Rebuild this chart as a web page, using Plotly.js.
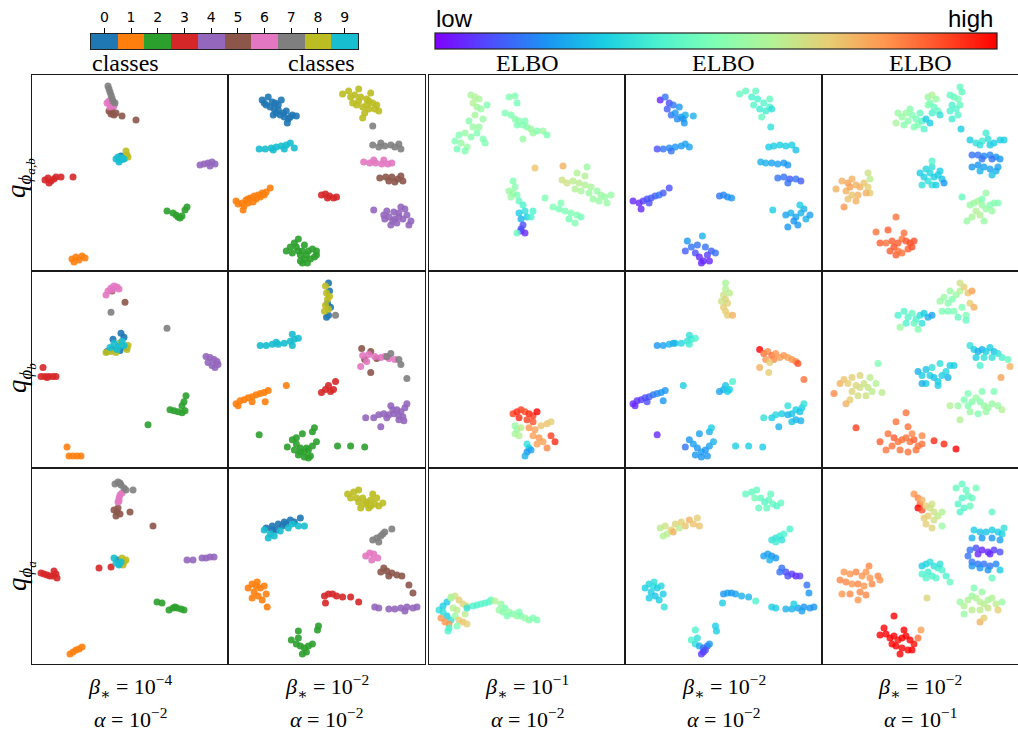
<!DOCTYPE html>
<html><head><meta charset="utf-8">
<script src="https://cdn.plot.ly/plotly-3.0.1.min.js"></script>
<style>html,body{margin:0;padding:0;background:#fff}#chart{width:1018px;height:732px}</style>
</head><body><div id="chart"></div><script>
// ---------- labels / categories ----------
const classIdx = [0,1,2,3,4,5,6,7,8,9];
const classLabels = ['0','1','2','3','4','5','6','7','8','9'];
const classColors = ['#1f77b4','#ff7f0e','#2ca02c','#d62728','#9467bd','#8c564b','#e377c2','#7f7f7f','#bcbd22','#17becf'];
const rowLabels = ['<i>q</i><sub><i>ϕ</i><sub><i>a,b</i></sub></sub>','<i>q</i><sub><i>ϕ</i><sub><i>b</i></sub></sub>','<i>q</i><sub><i>ϕ</i><sub><i>a</i></sub></sub>'];
const betaLabels = ['<i>β</i><sub>∗</sub> = 10<sup>−4</sup>','<i>β</i><sub>∗</sub> = 10<sup>−2</sup>','<i>β</i><sub>∗</sub> = 10<sup>−1</sup>','<i>β</i><sub>∗</sub> = 10<sup>−2</sup>','<i>β</i><sub>∗</sub> = 10<sup>−2</sup>'];
const alphaLabels = ['<i>α</i> = 10<sup>−2</sup>','<i>α</i> = 10<sup>−2</sup>','<i>α</i> = 10<sup>−2</sup>','<i>α</i> = 10<sup>−2</sup>','<i>α</i> = 10<sup>−1</sup>'];
const topLabels = ['classes','classes','ELBO','ELBO','ELBO'];

// ---------- points: [x, y, class] (class panels) or [x, y, ELBO 0..1] ----------
const r1c1 = [[76,11,7],[77,14,7],[78,17,7],[79,20,7],[80,23,7],[81,26,7],[83,28,7],
[75,28,6],[77,26,6],[79,30,6],[81,27,6],[78,32,6],[82,31,6],
[77,36,5],[79,39,5],[82,40,5],[80,35,5],[84,38,5],[90,41,5],[104,45,5],
[84,84,9],[86,82,9],[88,85,9],[90,83,9],[87,87,9],[92,84,9],
[94,76,8],[95,80,8],[93,83,8],[96,82,8],
[89,81,0],[91,84,0],
[13,105,3],[16,103,3],[19,106,3],[22,104,3],[17,108,3],[24,102,3],[29,102,3],[41,102,3],
[168,90,4],[172,89,4],[176,88,4],[180,87,4],[183,89,4],[178,91,4],
[135,136,2],[141,138,2],[146,142,2],[150,141,2],[153,135,2],[155,132,2],[144,140,2],[148,143,2],
[40,184,1],[44,182,1],[47,185,1],[50,181,1],[53,183,1],[42,187,1]];

const r1c2 = [[34,25,0],[40,22,0],[38,30,0],[44,27,0],[46,34,0],[50,30,0],[48,38,0],[52,40,0],[56,42,0],[60,44,0],[64,40,0],[58,36,0],[53,25,0],[45,40,0],[59,48,0],[68,41,0],[36,28,0],[42,32,0],[50,35,0],[55,38,0],[62,42,0],[47,28,0],
[114,19,8],[120,16,8],[126,20,8],[132,22,8],[138,24,8],[144,28,8],[140,34,8],[134,32,8],[128,30,8],[136,38,8],[148,30,8],[130,14,8],[142,18,8],[134,43,8],[122,22,8],[130,26,8],[138,30,8],[146,34,8],[124,28,8],[140,26,8],[150,36,8],
[144,51,7],[144,70,7],[150,72,7],[156,71,7],[162,70,7],[166,72,7],[170,69,7],[172,74,7],[152,68,7],
[31,74,9],[37,74,9],[43,73,9],[48,72,9],[53,71,9],[58,70,9],[62,68,9],[66,73,9],[56,74,9],[45,75,9],
[135,87,6],[141,88,6],[147,88,6],[153,89,6],[159,89,6],[163,88,6],[145,85,6],[155,85,6],
[151,103,5],[157,102,5],[163,102,5],[169,104,5],[174,106,5],[166,107,5],[160,106,5],[172,101,5],
[93,120,3],[97,119,3],[101,121,3],[105,123,3],[108,122,3],[99,123,3],
[8,126,1],[14,128,1],[18,125,1],[22,123,1],[26,121,1],[30,120,1],[34,118,1],[38,117,1],[42,113,1],[16,131,1],[25,127,1],[15,135,1],[20,128,1],[32,122,1],[10,129,1],[28,124,1],[36,120,1],[20,124,1],
[145,135,4],[155,140,4],[160,142,4],[165,137,4],[170,138,4],[174,144,4],[178,140,4],[182,146,4],[168,148,4],[162,150,4],[176,134,4],[172,132,4],[166,144,4],[158,136,4],[164,146,4],[170,142,4],[180,150,4],[156,144,4],
[58,176,2],[64,178,2],[68,172,2],[72,180,2],[76,184,2],[80,176,2],[84,174,2],[88,180,2],[74,188,2],[79,188,2],[66,168,2],[70,164,2],[76,170,2],[86,182,2],[74,176,2],[62,172,2],[70,176,2],[78,180,2],[82,184,2],[88,176,2],[72,186,2]];

const r2c1 = [[74,24,6],[76,20,6],[79,17,6],[82,15,6],[85,16,6],[87,18,6],[80,19,6],
[80,20,5],[93,31,5],
[79,41,7],[135,57,7],
[75,80,0],[80,78,0],[88,79,0],[94,76,0],[81,68,0],[89,62,0],[92,66,0],
[78,76,9],[82,72,9],[86,75,9],[90,70,9],[92,74,9],[85,78,9],
[74,81,8],[79,80,8],[84,81,8],[95,78,8],[96,74,8],[87,72,8],
[11,96,3],[9,105,3],[13,105,3],[17,105,3],[21,105,3],[24,105,3],[15,106,3],
[174,85,4],[178,86,4],[182,88,4],[185,90,4],[176,91,4],[180,94,4],[183,96,4],[186,93,4],
[138,138,2],[142,139,2],[146,140,2],[150,141,2],[153,139,2],[150,134,2],[152,130,2],[154,124,2],[116,153,2],
[35,175,1],[37,184,1],[41,184,1],[45,184,1],[49,184,1]];

const r2c2 = [[100,12,0],[101,20,0],[99,32,0],[100,44,0],[102,36,0],[98,46,0],
[97,15,8],[98,22,8],[99,28,8],[97,34,8],[100,38,8],[96,40,8],[101,25,8],
[107,44,7],[158,85,7],[162,82,7],[170,88,7],[172,93,7],[178,107,7],
[32,74,9],[38,74,9],[44,73,9],[50,73,9],[56,72,9],[62,70,9],[66,68,9],[70,67,9],[64,63,9],[64,74,9],[48,71,9],
[134,84,6],[140,83,6],[146,85,6],[152,86,6],[156,85,6],[160,87,6],[166,88,6],[132,95,6],[138,90,6],
[133,77,5],[142,80,5],[148,87,5],[142,101,5],[136,88,5],
[93,121,3],[97,118,3],[100,114,3],[102,120,3],[105,118,3],[107,110,3],
[8,132,1],[12,129,1],[16,128,1],[20,126,1],[24,125,1],[28,123,1],[32,122,1],[36,121,1],[40,119,1],[10,134,1],[24,130,1],[37,130,1],[58,114,1],
[137,146,4],[145,146,4],[150,143,4],[155,142,4],[160,143,4],[165,142,4],[168,138,4],[172,140,4],[176,136,4],[178,132,4],[170,148,4],[175,149,4],[162,134,4],[152,155,4],[158,146,4],[164,138,4],[170,144,4],[174,145,4],
[59,175,2],[64,168,2],[68,172,2],[72,176,2],[76,180,2],[80,178,2],[84,174,2],[88,170,2],[70,183,2],[76,185,2],[82,184,2],[74,162,2],[84,160,2],[86,156,2],[31,163,2],[109,174,2],[122,174,2],[136,175,2],[66,178,2],[78,176,2],[72,180,2],[80,186,2],[68,166,2]];

const r3c1 = [[83,16,7],[86,14,7],[89,17,7],[92,20,7],[94,22,7],[88,15,7],[101,22,7],
[86,34,6],[87,30,6],[88,27,6],[90,25,6],[87,33,6],
[82,42,5],[85,44,5],[88,46,5],[84,48,5],[86,40,5],[98,44,5],[121,58,5],
[82,90,9],[84,95,9],[87,97,9],[89,94,9],
[86,92,0],[88,96,0],
[90,90,8],[92,94,8],[94,92,8],[91,97,8],
[9,105,3],[12,106,3],[15,107,3],[18,108,3],[21,108,3],[24,106,3],[25,110,3],[22,103,3],[67,100,3],[79,99,3],
[155,92,4],[161,92,4],[170,90,4],[174,90,4],[178,89,4],[182,89,4],
[125,134,2],[130,135,2],[137,142,2],[141,140,2],[145,140,2],[149,141,2],[152,142,2],[143,139,2],
[38,186,1],[41,184,1],[44,182,1],[47,181,1],[50,179,1]];

const r3c2 = [[119,26,8],[125,24,8],[130,22,8],[134,30,8],[138,34,8],[142,32,8],[146,36,8],[150,38,8],[154,35,8],[132,40,8],[140,40,8],[128,30,8],[144,26,8],[122,30,8],[136,36,8],[148,30,8],[130,34,8],[142,38,8],
[38,60,0],[44,58,0],[50,56,0],[56,54,0],[62,52,0],[66,54,0],[72,50,0],[48,62,0],[54,58,0],[58,56,0],[44,62,0],
[36,62,9],[42,66,9],[46,68,9],[52,63,9],[60,60,9],[70,58,9],[40,70,9],[76,58,9],[64,56,9],
[144,72,7],[148,70,7],[152,68,7],[156,64,7],[150,74,7],[154,66,7],[163,61,7],
[137,88,6],[141,85,6],[145,86,6],[149,90,6],[143,92,6],
[152,104,5],[158,103,5],[163,105,5],[168,107,5],[173,108,5],[160,108,5],[155,100,5],[180,117,5],[184,125,5],
[20,120,1],[24,116,1],[28,118,1],[32,120,1],[36,118,1],[26,124,1],[30,128,1],[34,132,1],[24,130,1],[38,126,1],[29,114,1],[39,139,1],
[96,128,3],[100,126,3],[104,126,3],[108,128,3],[114,129,3],[122,129,3],[130,134,3],[97,135,3],
[146,139,4],[150,140,4],[160,141,4],[166,141,4],[172,140,4],[178,139,4],[184,140,4],[188,139,4],[176,143,4],
[63,172,2],[68,176,2],[72,178,2],[76,180,2],[80,178,2],[84,176,2],[70,170,2],[78,184,2],[74,186,2],[70,163,2],[89,162,2],[90,158,2]];

const r1c3 = [[42,20,.58],[46,22,.6],[50,24,.58],[44,28,.6],[48,32,.58],[52,34,.55],[58,30,.5],[46,40,.58],[54,44,.55],[40,46,.52],[30,60,.5],[36,58,.55],[42,62,.52],[26,66,.5],[32,68,.55],[48,58,.5],[54,64,.5],[38,72,.55],[28,74,.48],[36,76,.5],[56,68,.5],[44,52,.55],[50,52,.55],
[76,38,.5],[82,40,.5],[86,44,.52],[90,46,.52],[94,50,.5],[98,52,.52],[102,54,.55],[108,56,.5],[114,56,.55],[118,60,.5],[88,50,.5],[96,46,.5],[104,58,.55],[94,64,.55],[80,22,.5],[86,21,.5],[88,28,.48],
[84,106,.5],[86,112,.52],[84,118,.55],[88,120,.5],[90,126,.45],[94,130,.4],[96,136,.35],[98,142,.3],[90,138,.3],[92,144,.25],[94,150,.1],[92,156,.05],[96,158,.05],[102,142,.4],[104,136,.4],[82,122,.55],[80,116,.55],[92,154,.1],[88,158,.45],[106,93,.72],[116,123,.5],
[138,108,.65],[144,106,.62],[150,108,.62],[156,110,.6],[162,112,.58],[146,114,.6],[152,116,.58],[160,118,.55],[168,116,.55],[172,120,.55],[176,122,.55],[182,120,.55],[170,126,.55],[178,128,.55],[164,124,.55],[130,134,.48],[136,136,.5],[142,138,.5],[148,140,.5],[152,142,.48],[140,144,.48],[146,148,.5],[132,128,.5],[124,132,.5],[134,91,.75],[148,98,.6],[156,101,.6],[158,92,.55],[133,105,.65]];

const r1c4 = [[35,25,.05],[40,22,.15],[44,28,.1],[42,34,.12],[46,40,.15],[50,38,.2],[52,44,.18],[56,42,.2],[60,40,.25],[48,30,.15],[54,32,.2],[58,44,.2],[59,48,.2],[68,41,.25],
[114,19,.45],[120,16,.45],[126,22,.4],[132,24,.4],[138,28,.42],[144,32,.4],[140,36,.38],[134,34,.38],[128,30,.42],[144,24,.45],[136,42,.45],[130,16,.45],[146,34,.35],[145,52,.35],
[32,74,.1],[38,74,.15],[44,73,.18],[50,72,.2],[56,71,.2],[60,69,.22],[64,72,.22],[46,76,.15],
[143,72,.3],[148,71,.3],[154,70,.3],[160,71,.3],[166,70,.3],[170,75,.28],
[135,87,.25],[140,88,.25],[146,88,.22],[152,89,.22],[158,88,.2],[162,90,.2],
[152,103,.15],[158,102,.15],[164,104,.12],[170,104,.15],[175,106,.12],[162,108,.15],
[94,121,.15],[98,120,.18],[102,122,.18],[106,123,.2],
[8,126,.05],[14,128,.05],[18,126,.08],[22,124,.1],[26,123,.12],[30,121,.12],[34,120,.15],[38,118,.12],[16,134,.05],[24,128,.1],[44,113,.1],
[160,140,.22],[165,138,.25],[170,142,.22],[175,138,.25],[180,144,.25],[184,140,.22],[168,146,.2],[172,150,.2],[178,134,.25],[174,130,.3],[162,152,.2],[147,135,.3],
[60,176,.12],[66,172,.15],[70,178,.1],[74,182,.05],[78,186,.05],[82,180,.08],[86,176,.12],[90,178,.15],[80,172,.15],[72,170,.15],[84,186,.05],[76,188,.05],[77,161,.25],[62,166,.2]];

const r2c3 = [[84,142,.92],[88,140,.95],[92,138,.92],[96,140,.9],[100,142,.95],[104,144,.92],[108,140,1.0],[90,146,.95],[98,148,.92],[104,150,.9],
[100,156,.8],[106,158,.78],[112,154,.72],[118,152,.72],[122,150,.7],[104,164,.78],[110,166,.8],[108,172,.78],[114,170,.78],[118,176,.82],[122,164,.92],[126,170,.95],
[86,154,.55],[88,158,.55],[86,162,.58],[90,164,.6],[92,156,.62],
[98,172,.35],[100,176,.3],[98,180,.2],[102,178,.22],[96,184,.25]];

const r2c4 = [[100,12,.58],[100,18,.6],[98,24,.65],[100,28,.68],[102,32,.68],[98,36,.7],[100,40,.7],[102,44,.7],[96,30,.65],[104,22,.62],[107,44,.75],
[32,74,.2],[38,74,.22],[44,73,.25],[50,72,.28],[56,72,.32],[62,70,.35],[66,68,.38],[70,67,.4],[64,64,.35],[64,73,.38],[48,72,.25],
[134,78,1.0],[138,82,.85],[142,80,.82],[146,84,.85],[150,82,.8],[154,86,.78],[158,84,.8],[162,86,.78],[166,88,.8],[170,90,.82],[140,88,.8],[148,88,.82],[134,96,.75],[144,91,.7],[172,92,.9],[143,101,.7],[178,108,.85],
[94,120,.22],[98,118,.25],[100,114,.28],[102,120,.3],[104,118,.3],[107,110,.4],
[8,132,.05],[12,129,.06],[16,128,.08],[20,126,.1],[24,125,.12],[28,123,.15],[32,122,.18],[36,121,.2],[40,119,.2],[10,134,.05],[22,130,.1],[38,129,.2],[58,114,.3],
[138,146,.35],[146,146,.3],[150,143,.32],[156,142,.3],[162,143,.25],[166,142,.28],[170,138,.3],[174,140,.28],[176,136,.3],[178,132,.35],[170,148,.25],[175,149,.25],[162,134,.35],[153,155,.25],[166,150,.28],
[60,175,.15],[64,168,.2],[68,172,.22],[72,176,.2],[76,180,.22],[80,178,.2],[84,174,.22],[88,170,.25],[70,183,.2],[76,185,.2],[82,184,.2],[74,162,.22],[84,160,.25],[86,156,.3],[32,163,.05],[110,174,.3],[123,174,.3],[137,175,.3]];

const r3c3 = [[10,142,.35],[14,138,.3],[18,134,.3],[22,130,.55],[26,128,.65],[30,132,.7],[34,136,.68],[38,138,.65],[18,148,.3],[12,150,.8],[16,154,.8],[22,152,.35],[26,148,.55],[30,152,.7],[34,154,.72],[38,156,.7],[24,140,.6],[28,142,.62],[14,144,.35],[20,156,.8],[22,129,.6],[20,160,.4],[36,146,.62],[28,158,.5],[19,163,.4],
[44,138,.4],[48,137,.4],[52,136,.42],[56,135,.42],[60,134,.42],[62,132,.45],[38,140,.35],
[66,133,.6],[72,136,.55],[70,142,.55],[76,140,.5],[80,144,.55],[84,146,.5],[88,148,.55],[92,148,.5],[96,150,.55],[100,152,.52],[104,150,.5],[108,152,.5],[74,144,.52],[90,144,.5],[78,148,.5]];

const r3c4 = [[120,26,.45],[126,24,.45],[131,22,.45],[135,30,.45],[139,34,.42],[143,32,.45],[147,36,.45],[151,38,.42],[155,35,.45],[133,40,.45],[141,40,.45],[129,30,.48],[145,26,.45],
[35,60,.62],[40,58,.65],[46,62,.7],[50,56,.68],[56,54,.7],[60,58,.72],[64,52,.75],[68,56,.72],[72,50,.7],[42,66,.62],[48,64,.75],[54,60,.62],[38,68,.6],[74,58,.72],
[146,72,.35],[150,70,.35],[154,68,.38],[158,66,.4],[150,74,.38],[156,72,.35],[164,61,.4],
[138,88,.22],[142,86,.22],[146,88,.2],[150,90,.2],[144,92,.25],
[154,104,.15],[160,104,.1],[166,106,.08],[170,108,.05],[174,108,.08],[162,108,.1],[156,100,.15],[181,117,.15],[183,125,.2],
[20,120,.3],[24,116,.32],[28,118,.35],[32,120,.3],[36,118,.32],[26,124,.3],[30,128,.28],[34,132,.3],[24,130,.3],[38,126,.3],[29,114,.35],[39,139,.35],
[98,126,.2],[102,125,.22],[106,125,.2],[110,126,.22],[116,128,.25],[123,129,.25],[97,135,.3],[130,133,.4],
[146,139,.3],[150,140,.3],[160,141,.25],[166,141,.25],[172,140,.22],[178,139,.2],[184,140,.2],[188,139,.2],[176,143,.22],[168,136,.3],
[66,172,.4],[70,176,.35],[74,178,.25],[78,180,.15],[82,178,.15],[84,176,.2],[72,170,.35],[78,184,.05],[76,186,.08],[80,182,.1],[70,162,.4],[90,158,.3],[91,163,.3]];

const r1c5 = [[74,48,.58],[80,42,.55],[84,38,.55],[86,46,.52],[90,40,.5],[94,44,.48],[96,50,.5],[100,46,.42],[104,44,.3],[108,48,.3],[92,52,.5],[98,38,.45],[82,50,.52],[102,54,.42],[76,38,.55],[88,34,.52],
[106,22,.55],[110,20,.6],[114,24,.55],[108,28,.5],[112,32,.45],[116,36,.45],[110,38,.4],[118,40,.35],[106,30,.5],
[128,20,.45],[132,22,.45],[136,24,.48],[138,30,.45],[134,34,.42],[130,30,.4],[128,36,.4],[136,40,.42],[140,17,.45],[130,44,.38],[138,12,.45],[139,54,.3],
[148,65,.3],[154,68,.35],[160,66,.38],[166,64,.35],[172,68,.3],[178,65,.3],[158,70,.35],[168,70,.3],[182,65,.3],[164,58,.38],
[150,80,.15],[156,80,.15],[162,81,.18],[168,80,.18],[174,82,.2],[178,84,.2],[160,84,.15],[170,84,.15],
[150,92,.2],[156,90,.2],[162,92,.22],[168,94,.22],[174,96,.25],[170,100,.28],[158,96,.25],[176,92,.22],
[98,98,.3],[104,94,.32],[108,98,.32],[112,102,.3],[116,100,.3],[120,104,.28],[106,106,.35],[110,110,.35],[114,110,.3],[102,102,.3],[110,92,.35],[118,96,.3],[122,108,.2],[110,86,.42],[100,110,.35],
[14,114,.75],[20,106,.75],[26,108,.78],[30,104,.75],[34,110,.75],[38,112,.75],[42,108,.72],[46,112,.7],[48,118,.7],[44,118,.75],[36,120,.75],[30,120,.72],[24,116,.75],[26,124,.72],[34,126,.75],[22,132,.8],[46,98,.65],[48,104,.62],[28,112,.78],
[140,122,.45],[148,130,.55],[152,128,.55],[156,126,.58],[160,130,.55],[164,134,.55],[168,130,.5],[172,128,.52],[176,128,.5],[158,140,.6],[150,142,.58],[164,118,.55],[160,124,.5],[170,136,.55],[154,136,.6],[145,146,.55],[162,146,.55],
[74,142,.85],[54,157,.85],[66,155,.88],[58,168,.88],[64,168,.85],[70,166,.88],[72,172,.9],[76,168,.88],[80,164,.85],[84,166,.88],[88,168,.9],[92,166,.9],[86,174,.88],[80,178,.85],[74,180,.88],[76,176,.85],[68,176,.88],[90,172,.9],[82,158,.85]];

const r2c5 = [[118,30,.55],[122,26,.55],[126,32,.52],[130,28,.5],[134,24,.55],[138,20,.6],[142,16,.7],[146,22,.72],[150,20,.78],[148,32,.7],[152,36,.75],[140,36,.5],[132,40,.5],[126,40,.48],[136,46,.45],[144,44,.5],[120,40,.5],[138,12,.65],[128,20,.55],[144,49,.45],
[76,44,.4],[82,40,.42],[86,46,.42],[90,42,.45],[94,48,.4],[98,44,.35],[102,42,.3],[106,46,.25],[110,44,.22],[100,52,.35],[92,52,.45],[84,52,.4],[96,58,.5],[78,56,.55],
[148,74,.35],[152,78,.3],[156,80,.25],[160,78,.25],[164,80,.3],[168,76,.3],[172,80,.28],[176,82,.35],[180,86,.4],[186,88,.45],[154,86,.3],[162,86,.35],[170,86,.35],[158,94,.4],[188,95,.75],[179,106,.78],
[96,100,.25],[100,104,.3],[104,98,.28],[108,104,.3],[112,106,.28],[116,110,.3],[120,104,.3],[124,100,.32],[110,96,.35],[118,92,.35],[104,112,.3],[116,114,.3],[126,106,.25],[128,94,.3],[132,94,.3],[100,112,.25],
[18,112,.75],[22,108,.72],[26,112,.7],[30,106,.7],[34,114,.68],[38,116,.66],[42,112,.65],[46,116,.64],[50,120,.62],[54,112,.6],[30,120,.68],[36,124,.66],[44,124,.65],[28,128,.7],[24,132,.75],[12,122,.82],[38,104,.68],[56,92,.5],[60,121,.62],[48,106,.62],
[128,134,.6],[136,134,.55],[142,128,.5],[146,134,.5],[150,130,.52],[154,126,.55],[158,130,.52],[162,134,.55],[166,136,.55],[170,132,.55],[148,140,.55],[156,142,.5],[164,140,.55],[176,134,.55],[180,138,.6],[138,148,.6],[160,120,.5],[172,120,.5],[146,122,.5],
[84,141,.85],[74,150,.85],[86,155,.85],[66,162,.85],[72,166,.88],[76,170,.85],[80,168,.85],[84,166,.85],[88,170,.85],[92,168,.88],[96,174,.85],[100,172,.85],[70,174,.85],[78,178,.85],[86,180,.85],[94,178,.85],[58,170,.88],[64,178,.85],[90,162,.82],[100,164,.82],[34,156,.92],[112,169,.95],[122,172,.95],[134,177,1.0]];

const r3c5 = [[92,26,.8],[96,30,.82],[98,36,.85],[96,40,1.0],[100,42,.9],[104,38,.7],[108,40,.65],[112,44,.65],[116,48,.62],[106,48,.7],[112,52,.65],[102,50,.7],[110,36,.65],[120,44,.6],[104,56,.7],[110,60,.68],[120,58,.55],[100,32,.75],
[134,20,.45],[140,16,.45],[144,22,.45],[146,28,.45],[150,30,.45],[140,30,.42],[136,36,.42],[142,40,.42],[148,38,.45],[138,44,.42],[154,20,.48],[170,44,.45],
[152,62,.3],[158,64,.28],[164,64,.28],[170,62,.3],[176,64,.3],[180,66,.3],[150,70,.25],[160,70,.2],[170,70,.2],[178,72,.22],[182,60,.35],
[148,82,.15],[154,80,.1],[160,82,.05],[166,84,.05],[172,82,.08],[178,84,.1],[156,86,.05],[168,86,.05],[146,88,.15],
[150,94,.15],[156,96,.15],[162,96,.15],[168,98,.15],[174,96,.18],[158,100,.2],[166,102,.2],[150,98,.2],[178,102,.3],[170,110,.45],
[100,98,.3],[104,96,.32],[108,94,.35],[112,98,.35],[116,100,.38],[120,102,.4],[106,104,.38],[110,108,.4],[104,110,.42],[114,110,.42],[124,108,.4],[100,106,.4],[118,96,.35],[128,114,.45],[105,130,.68],
[22,104,.8],[28,106,.8],[34,104,.82],[40,108,.8],[44,104,.8],[48,110,.8],[56,108,.82],[18,112,.82],[24,114,.82],[30,116,.8],[36,116,.82],[42,118,.8],[50,116,.82],[38,124,.82],[28,126,.82],[20,126,.8],[44,127,.82],[36,132,.8],[47,98,.82],[58,112,.8],
[138,134,.55],[142,138,.6],[146,132,.6],[150,128,.55],[154,130,.6],[158,134,.6],[162,136,.62],[166,132,.58],[170,130,.6],[174,136,.62],[150,142,.62],[158,142,.62],[166,140,.64],[176,142,.7],[152,120,.5],[160,124,.55],[142,146,.55],[158,154,.75],[162,150,.7],[180,134,.55],
[72,148,1.0],[58,167,1.0],[64,166,1.0],[68,170,1.0],[72,168,1.0],[76,172,.98],[80,170,1.0],[84,168,1.0],[88,172,1.0],[92,176,.98],[74,178,1.0],[80,180,1.0],[86,182,1.0],[90,182,1.0],[78,186,1.0],[70,176,1.0],[96,170,.85],[99,162,.78],[62,160,1.0],[82,162,1.0]];

const panels = [[r1c1,r1c2,r1c3,r1c4,r1c5],[r2c1,r2c2,r2c3,r2c4,r2c5],[r3c1,r3c2,r3c3,r3c4,r3c5]];
const panelIsClass = [true,true,false,false,false];

// ---------- styling / geometry (pixels) ----------
const W = 1018, H = 732;
const colPx = [[32,228],[228,425],[429,625],[625,822],[822,1018]];
const rowPx = [[75,271],[271,468],[468,664]];
const rainbow = [[0,'rgb(128,0,255)'],[0.1,'rgb(77,79,252)'],[0.2,'rgb(26,150,243)'],[0.3,'rgb(26,206,227)'],[0.4,'rgb(77,243,206)'],[0.5,'rgb(128,255,180)'],[0.6,'rgb(179,243,150)'],[0.7,'rgb(230,206,116)'],[0.8,'rgb(255,150,79)'],[0.9,'rgb(255,79,40)'],[1,'rgb(255,0,0)']];
const serif = 'Liberation Serif, DejaVu Serif, serif';
const MS = 7;

const traces = [];
const layout = {
  width: W, height: H, margin: {l:0,r:0,t:0,b:0, autoexpand:false},
  paper_bgcolor: '#fff', plot_bgcolor: 'rgba(0,0,0,0)', showlegend: false,
  annotations: []
};
const fx = px => px / W, fy = py => 1 - py / H;

let firstElbo = true;
for (let r = 0; r < 3; r++) {
  for (let c = 0; c < 5; c++) {
    const k = r * 5 + c + 1;
    const xs = k === 1 ? 'x' : 'x' + k, ys = k === 1 ? 'y' : 'y' + k;
    layout[k === 1 ? 'xaxis' : 'xaxis' + k] = {
      domain: [fx(colPx[c][0]), fx(colPx[c][1])], range: [0, 196], anchor: ys,
      showgrid: false, zeroline: false, showticklabels: false, ticks: '',
      showline: true, mirror: true, linecolor: '#1a1a1a', linewidth: 1.3, fixedrange: true
    };
    layout[k === 1 ? 'yaxis' : 'yaxis' + k] = {
      domain: [fy(rowPx[r][1]), fy(rowPx[r][0])], range: [196, 0], anchor: xs,
      showgrid: false, zeroline: false, showticklabels: false, ticks: '',
      showline: true, mirror: true, linecolor: '#1a1a1a', linewidth: 1.3, fixedrange: true
    };
    const pts = panels[r][c];
    if (panelIsClass[c]) {
      classIdx.forEach(ci => {
        const sub = pts.filter(p => p[2] === ci);
        if (!sub.length) return;
        traces.push({type: 'scatter', mode: 'markers', xaxis: xs, yaxis: ys,
          x: sub.map(p => p[0]), y: sub.map(p => p[1]), hoverinfo: 'skip',
          marker: {size: MS, color: classColors[ci], opacity: 0.9, line: {width: 0}}});
      });
    } else {
      const m = {size: MS, color: pts.map(p => p[2]), colorscale: rainbow, cmin: 0, cmax: 1,
        opacity: 0.8, line: {width: 0}, showscale: firstElbo};
      if (firstElbo) {
        m.colorbar = {orientation: 'h', x: fx(435), xanchor: 'left', xref: 'paper',
          len: (997 - 435) / W, lenmode: 'fraction', thickness: 16, thicknessmode: 'pixels',
          y: fy(33), yanchor: 'top', yref: 'paper', xpad: 0, ypad: 0,
          showticklabels: false, ticks: '', outlinecolor: '#222', outlinewidth: 1.2};
        firstElbo = false;
      }
      traces.push({type: 'scatter', mode: 'markers', xaxis: xs, yaxis: ys,
        x: pts.map(p => p[0]), y: pts.map(p => p[1]), hoverinfo: 'skip', marker: m});
    }
  }
}

// classes colour bar (heatmap on its own axis)
const discrete = [];
classColors.forEach((col, i) => { discrete.push([i / 10, col]); discrete.push([(i + 1) / 10, col]); });
traces.push({type: 'heatmap', xaxis: 'x16', yaxis: 'y16', z: [classIdx], x: classIdx, y: [0],
  zmin: -0.5, zmax: 9.5, colorscale: discrete, showscale: false, hoverinfo: 'skip'});
layout.xaxis16 = {domain: [fx(91), fx(358)], range: [-0.5, 9.5], anchor: 'y16', side: 'top',
  tickvals: classIdx, ticktext: classLabels, ticks: 'outside', ticklen: 5, tickcolor: '#000', tickwidth: 1,
  tickfont: {family: 'DejaVu Sans, sans-serif', size: 14, color: '#000'},
  showgrid: false, zeroline: false, showline: true, mirror: true, linecolor: '#222', linewidth: 1.2, fixedrange: true};
layout.yaxis16 = {domain: [fy(49), fy(34)], range: [-0.5, 0.5], anchor: 'x16', showticklabels: false,
  ticks: '', showgrid: false, zeroline: false, showline: true, mirror: true, linecolor: '#222', linewidth: 1.2, fixedrange: true};

// text
const ann = layout.annotations;
const topX = [125, 321, 527, 723.5, 920];
topLabels.forEach((t, i) => ann.push({xref: 'paper', yref: 'paper', x: fx(topX[i]), y: fy(63),
  xanchor: 'center', yanchor: 'middle', showarrow: false, text: t, font: {family: serif, size: 24, color: '#000'}}));
ann.push({xref: 'paper', yref: 'paper', x: fx(434), y: fy(18), xanchor: 'left', yanchor: 'middle',
  showarrow: false, text: 'low', font: {family: 'Liberation Sans, Arial, sans-serif', size: 24, color: '#000'}});
ann.push({xref: 'paper', yref: 'paper', x: fx(995), y: fy(18), xanchor: 'right', yanchor: 'middle',
  showarrow: false, text: 'high', font: {family: 'Liberation Sans, Arial, sans-serif', size: 24, color: '#000'}});
const rowLabY = [178, 378, 576];
rowLabels.forEach((t, i) => ann.push({xref: 'paper', yref: 'paper', x: fx(20), y: fy(rowLabY[i]),
  xanchor: 'center', yanchor: 'middle', textangle: -90, showarrow: false, text: t,
  font: {family: serif, size: 27, color: '#000'}}));
const colMid = colPx.map(p => (p[0] + p[1]) / 2);
betaLabels.forEach((t, i) => ann.push({xref: 'paper', yref: 'paper', x: fx(colMid[i]), y: fy(686),
  xanchor: 'center', yanchor: 'middle', showarrow: false, text: t, font: {family: serif, size: 22, color: '#000'}}));
alphaLabels.forEach((t, i) => ann.push({xref: 'paper', yref: 'paper', x: fx(colMid[i]), y: fy(718),
  xanchor: 'center', yanchor: 'middle', showarrow: false, text: t, font: {family: serif, size: 22, color: '#000'}}));

Plotly.newPlot('chart', traces, layout, {displayModeBar: false, staticPlot: true});
</script></body></html>
